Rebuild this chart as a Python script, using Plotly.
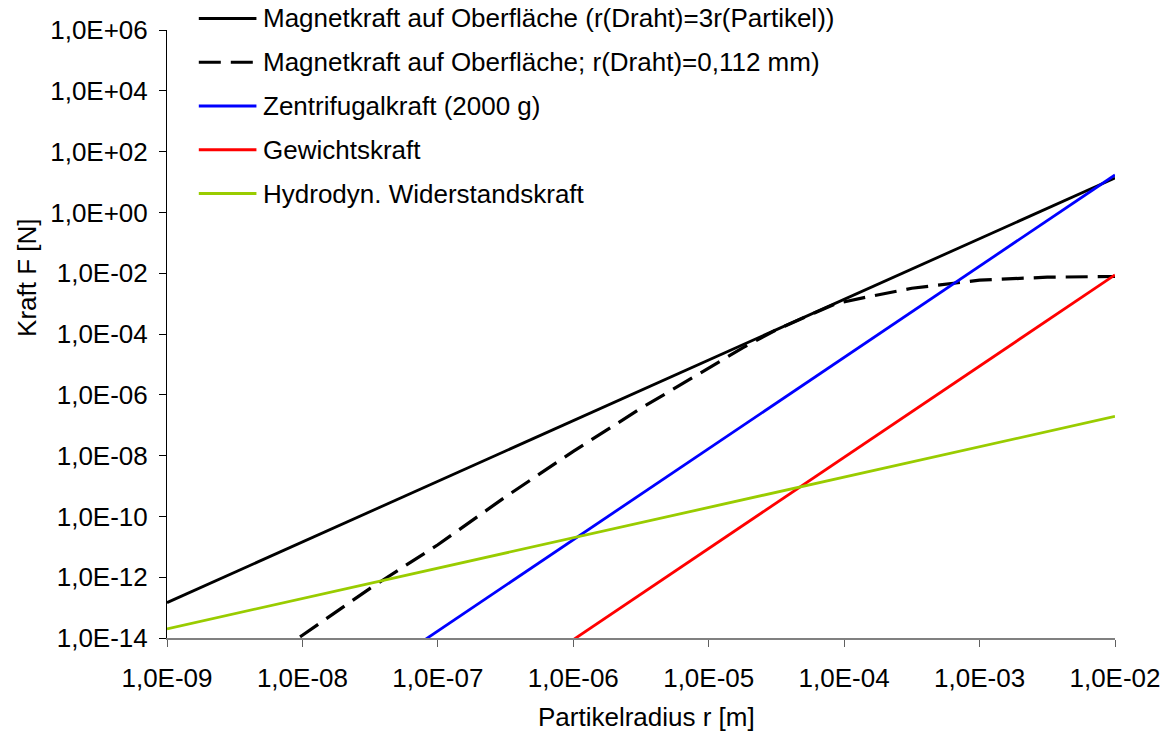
import plotly.graph_objects as go

# ---------------- data ----------------
r_decades = [1e-9, 1e-8, 1e-7, 1e-6, 1e-5, 1e-4, 1e-3, 1e-2]

f_magnet_3r = [1.46e-13, 1.45e-11, 1.43e-9, 1.41e-7, 1.40e-5, 1.38e-3, 1.36e-1, 13.5]
f_zentrifugal = [1.7e-20, 1.7e-17, 1.7e-14, 1.7e-11, 1.7e-8, 1.7e-5, 1.7e-2, 17.0]
f_gewicht = [8.8e-24, 8.8e-21, 8.8e-18, 8.8e-15, 8.8e-12, 8.8e-9, 8.8e-6, 8.8e-3]
f_widerstand = [2.0e-14, 2.0e-13, 2.0e-12, 2.0e-11, 2.0e-10, 2.0e-9, 2.0e-8, 1.95e-7]

r_draht = [1e-9, 1e-8, 3.16e-8, 1e-7, 3.16e-7, 1e-6, 3.16e-6, 1e-5, 1.78e-5,
           3.16e-5, 5.62e-5, 8.7e-5, 1.45e-4, 3.16e-4, 1e-3, 3.16e-3, 1e-2]
f_magnet_draht = [1.3e-17, 1.23e-14, 4.3e-13, 1.17e-11, 4.4e-10, 1.38e-8, 3.6e-7, 7.9e-6, 3.5e-5,
                  1.38e-4, 4.35e-4, 1.0e-3, 1.62e-3, 3.2e-3, 5.9e-3, 7.4e-3, 7.8e-3]

names = [
    "Magnetkraft auf Oberfläche (r(Draht)=3r(Partikel))",
    "Magnetkraft auf Oberfläche; r(Draht)=0,112 mm)",
    "Zentrifugalkraft (2000 g)",
    "Gewichtskraft",
    "Hydrodyn. Widerstandskraft",
]
colors = ["#000000", "#000000", "#0000FF", "#FF0000", "#99CC00"]
dashes = ["solid", "22px,10px", "solid", "solid", "solid"]
widths = [2.8, 3.2, 2.8, 2.8, 2.8]

x_tickvals = r_decades
x_ticktext = ["1,0E-09", "1,0E-08", "1,0E-07", "1,0E-06", "1,0E-05", "1,0E-04", "1,0E-03", "1,0E-02"]
y_tickvals = [1e-14, 1e-12, 1e-10, 1e-8, 1e-6, 1e-4, 1e-2, 1e0, 1e2, 1e4, 1e6]
y_ticktext = ["1,0E-14", "1,0E-12", "1,0E-10", "1,0E-08", "1,0E-06", "1,0E-04",
              "1,0E-02", "1,0E+00", "1,0E+02", "1,0E+04", "1,0E+06"]

# ---------------- figure ----------------
W, H = 1173, 733
ML, MR, MT, MB = 167, 52, 30, 95
PW, PH = W - ML - MR, H - MT - MB
FONT = "Liberation Sans, Arial, sans-serif"
FS = 26

series = [
    (r_decades, f_magnet_3r),
    (r_draht, f_magnet_draht),
    (r_decades, f_zentrifugal),
    (r_decades, f_gewicht),
    (r_decades, f_widerstand),
]

fig = go.Figure()
for (xs, ys), nm, c, d, w in zip(series, names, colors, dashes, widths):
    fig.add_trace(go.Scatter(x=xs, y=ys, mode="lines", name=nm,
                             line=dict(color=c, width=w, dash=d),
                             showlegend=False))

def px2x(px):
    return (px - ML) / PW

def py2y(py):
    return (MT + PH - py) / PH

shapes = []
annotations = []
for i, (nm, c, d, w) in enumerate(zip(names, colors, dashes, widths)):
    yy = py2y(18.5 + 43.75 * i)
    shapes.append(dict(type="line", xref="paper", yref="paper",
                       x0=px2x(199), x1=px2x(257), y0=yy, y1=yy,
                       line=dict(color=c, width=w, dash=d)))
    annotations.append(dict(text=nm, xref="paper", yref="paper",
                            x=px2x(262), y=yy, xanchor="left", yanchor="middle",
                            showarrow=False, font=dict(family=FONT, size=FS, color="black")))

annotations.append(dict(text="Partikelradius r [m]", xref="paper", yref="paper",
                        x=px2x(650), y=py2y(717), xanchor="center", yanchor="middle",
                        showarrow=False, font=dict(family=FONT, size=FS, color="black")))
annotations.append(dict(text="Kraft F [N]", xref="paper", yref="paper",
                        x=px2x(26), y=py2y(278), xanchor="center", yanchor="middle",
                        textangle=-90, showarrow=False,
                        font=dict(family=FONT, size=FS, color="black")))

fig.update_layout(
    width=W, height=H,
    margin=dict(l=ML, r=MR, t=MT, b=MB, pad=0),
    paper_bgcolor="white", plot_bgcolor="white",
    font=dict(family=FONT, size=FS, color="black"),
    shapes=shapes, annotations=annotations,
    showlegend=False,
)
fig.update_xaxes(type="log", range=[-9, -2], tickmode="array",
                 tickvals=x_tickvals, ticktext=x_ticktext,
                 showgrid=False, zeroline=False, showline=True,
                 linecolor="#808080", linewidth=2,
                 ticks="outside", ticklen=7, tickcolor="#606060", tickwidth=1,
                 ticklabelstandoff=9,
                 tickfont=dict(family=FONT, size=FS, color="black"))
fig.update_yaxes(type="log", range=[-14, 6], tickmode="array",
                 tickvals=y_tickvals, ticktext=y_ticktext,
                 showgrid=False, zeroline=False, showline=True,
                 linecolor="#000000", linewidth=1,
                 ticks="outside", ticklen=7, tickcolor="#000000", tickwidth=1,
                 ticklabelstandoff=6,
                 tickfont=dict(family=FONT, size=FS, color="black"))

fig.write_html("out.html",
               config={"displayModeBar": False},
               post_script="document.body.style.margin='0';document.body.style.padding='0';")
